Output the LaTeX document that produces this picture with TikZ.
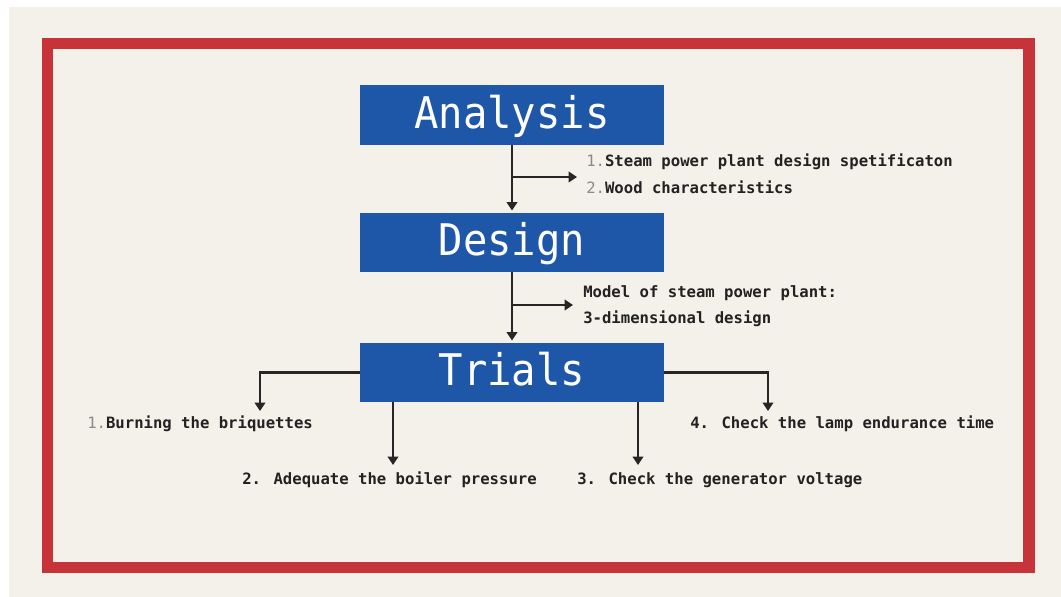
\documentclass[tikz,border=0pt]{standalone}
\usepackage{fontspec}
\usepackage{tikz}
\usetikzlibrary{arrows.meta,positioning}

\newfontfamily\stagefont[FakeStretch=0.93]{DejaVu Sans Mono}
\newfontfamily\lblfont{DejaVu Sans Mono}
\definecolor{bgbeige}{HTML}{F4F0EA}
\definecolor{framered}{HTML}{C6343A}
\definecolor{stageblue}{HTML}{1E56A8}
\definecolor{lbltext}{HTML}{222222}
\definecolor{numgray}{HTML}{8A8A8A}
\definecolor{linegray}{HTML}{262626}

\tikzset{
	stage/.style={fill=stageblue, text=white, inner sep=0pt,
		minimum width=7.6cm, minimum height=1.48cm,
		text height=24pt, text depth=5pt,
		font=\stagefont\fontsize{31}{31}\selectfont},
	lbl/.style={inner sep=0pt, text=lbltext, anchor=base west,
		text height=8.4pt, text depth=2.6pt,
		font=\lblfont\bfseries\fontsize{11.1}{11.1}\selectfont},
	arr/.style={-{Triangle[length=6pt,width=7.5pt]}, line width=1.6pt, draw=linegray},
}
\newcommand{\numtag}[1]{{\color{numgray}\mdseries #1}}

\begin{document}
\begin{tikzpicture}[x=0.025cm, y=-0.025cm]
	\useasboundingbox (0,0) rectangle (1061,597);
	\fill[white] (0,0) rectangle (1061,597);
	\fill[bgbeige] (9,7) rectangle (1061,597);
	\draw[framered, line width=8.2pt] (47.5,43.5) rectangle (1029,567.5);

	\node[stage] (analysis) at (512,115)   {Analysis};
	\node[stage] (design)   at (512,242.5) {Design};
	\node[stage] (trials)   at (512,372.5) {Trials};

	\node[lbl] (spec)   at (586,167) {\numtag{1.}Steam power plant design spetificaton};
	\node[lbl, below=0.65cm of spec.base west, anchor=base west] (wood) {\numtag{2.}Wood characteristics};
	\node[lbl] (model)  at (583,298) {Model of steam power plant:};
	\node[lbl, below=0.625cm of model.base west, anchor=base west] (threed) {3-dimensional design};

	\node[lbl] (burn)   at (87,428)  {\numtag{1.}Burning the briquettes};
	\node[lbl] (boiler) at (242,484) {2. Adequate the boiler pressure};
	\node[lbl] (gen)    at (577,484) {3. Check the generator voltage};
	\node[lbl] (lamp)   at (690,428) {4. Check the lamp endurance time};

	\coordinate (specarr)   at (577,177);
	\coordinate (modelarr)  at (573,305);
	\coordinate (burnarr)   at (260,411);
	\coordinate (boilerarr) at (393,465);
	\coordinate (genarr)    at (638,465);
	\coordinate (lamparr)   at (768,411);

	\draw[arr, shorten >=1.5pt] (analysis) -- (design);
	\draw[arr] (analysis.south |- specarr) -- (specarr);
	\draw[arr, shorten >=1.5pt] (design) -- (trials);
	\draw[arr] (design.south |- modelarr) -- (modelarr);

	\draw[arr] (trials.west) -| (burnarr);
	\draw[arr] (trials.east) -| (lamparr);
	\draw[arr] (trials.south -| boilerarr) -- (boilerarr);
	\draw[arr] (trials.south -| genarr) -- (genarr);
\end{tikzpicture}
\end{document}
